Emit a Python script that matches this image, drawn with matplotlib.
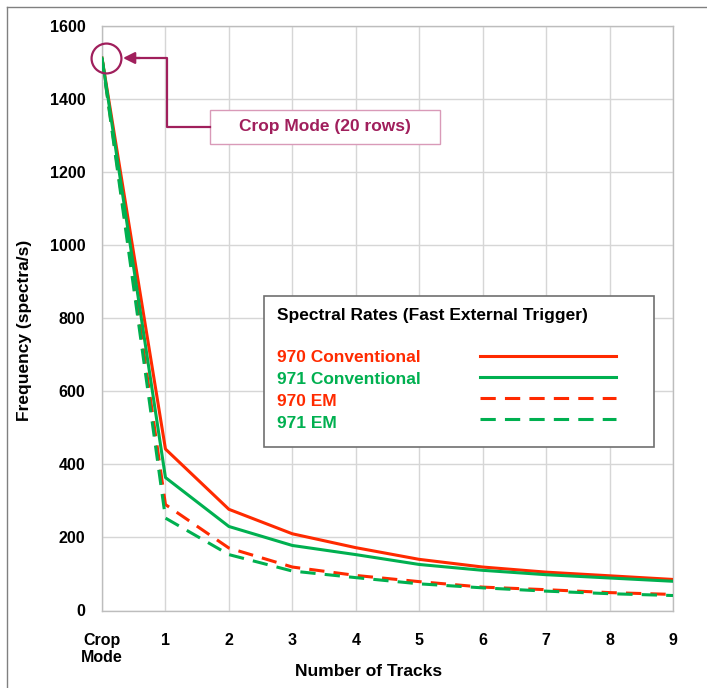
import matplotlib.pyplot as plt
from matplotlib.lines import Line2D
from matplotlib.patches import Rectangle
from matplotlib.transforms import offset_copy

import matplotlib as mpl

mpl.rcParams["font.family"] = ["Liberation Sans", "DejaVu Sans"]
mpl.rcParams["font.weight"] = "bold"

# data
tracks = ["Crop\nMode", "1", "2", "3", "4", "5", "6", "7", "8", "9"]
conv_970 = [1512, 442, 277, 210, 172, 140, 119, 105, 95, 85]
conv_971 = [1512, 364, 230, 178, 153, 126, 110, 98, 89, 80]
em_970 = [1512, 290, 171, 119, 96, 79, 64, 57, 49, 44]
em_971 = [1512, 253, 153, 108, 90, 73, 62, 53, 46, 41]
names = ["970 Conventional", "971 Conventional", "970 EM", "971 EM"]
legend_title = "Spectral Rates (Fast External Trigger)"
note = "Crop Mode (20 rows)"

RED = "#FF2A00"
GREEN = "#00B050"
PLUM = "#A01F5C"

W, H = 707, 688
fig = plt.figure(figsize=(W / 100, H / 100), dpi=100)


def fx(x):
    return x / W


def fy(y):
    return 1 - y / H


ax = fig.add_axes([fx(102), fy(610.5), (673 - 102) / W, (610.5 - 26) / H])

x = list(range(len(tracks)))
lw = 2.2
ax.plot(x, conv_970, color=RED, lw=lw, solid_joinstyle="round", zorder=3)
ax.plot(x, em_970, color=RED, lw=lw, dashes=(5, 3), zorder=3)
ax.plot(x, conv_971, color=GREEN, lw=lw, solid_joinstyle="round", zorder=4)
ax.plot(x, em_971, color=GREEN, lw=lw, dashes=(5, 3), zorder=4)

ax.set_xlim(0, 9)
ax.set_ylim(0, 1600)
ax.set_xticks(x)
ax.set_xticklabels(tracks)
ax.set_yticks(range(0, 1601, 200))
ax.tick_params(axis="x", length=0, pad=16, labelsize=11.5)
ax.tick_params(axis="y", length=0, pad=12, labelsize=11.5)
ax.grid(True, color="#D6D6D6", lw=1)
ax.set_axisbelow(True)
for s in ax.spines.values():
    s.set_color("#BDBDBD")
    s.set_linewidth(1)

fig.text(fx(369), fy(672), "Number of Tracks", ha="center", va="center",
         fontsize=12.5, fontweight="bold")
fig.text(fx(25), fy(330), "Frequency (spectra/s)", ha="center", va="center",
         rotation=90, fontsize=12.5, fontweight="bold")

# outer frame (only top and left edges are inside the image)
fig.add_artist(Line2D([fx(7), 1], [fy(7), fy(7)], color="#808080", lw=1))
fig.add_artist(Line2D([fx(7), fx(7)], [fy(7), 0], color="#808080", lw=1))

# crop mode callout
ring = offset_copy(ax.transData, fig=fig, x=4, y=0, units="dots")
ax.plot([0], [conv_970[0]], marker="o", ms=21.5, mfc="none", mec=PLUM,
        mew=1.6, clip_on=False, zorder=5, transform=ring)
fig.add_artist(Line2D([fx(210), fx(167), fx(167), fx(132)],
                      [fy(127), fy(127), fy(58), fy(58)], color=PLUM, lw=1.6))
ax.annotate("", xy=(fx(123), fy(58)), xycoords="figure fraction",
            xytext=(fx(140), fy(58)), textcoords="figure fraction",
            arrowprops=dict(arrowstyle="-|>,head_length=0.7,head_width=0.35",
                            color=PLUM, lw=1.6, shrinkA=0, shrinkB=0))
fig.add_artist(Rectangle((fx(210), fy(144)), (440 - 210) / W, (144 - 110) / H,
                         fill=True, facecolor="white", edgecolor="#D99AB8", lw=1))
fig.text(fx(325), fy(127), note, ha="center", va="center", color=PLUM,
         fontsize=12.5, fontweight="bold")

# legend box
fig.add_artist(Rectangle((fx(264), fy(447)), (654 - 264) / W, (447 - 296) / H,
                         facecolor="white", edgecolor="#707070", lw=1.2, zorder=6))
fig.text(fx(277), fy(316), legend_title, ha="left", va="center",
         fontsize=12.5, fontweight="bold", zorder=7)
styles = [(RED, None), (GREEN, None), (RED, (5, 3)), (GREEN, (5, 3))]
text_y = [357, 379, 401, 423]
line_y = [356, 377, 398, 419]
for name, (c, d), ty, ly in zip(names, styles, text_y, line_y):
    fig.text(fx(277), fy(ty), name, ha="left", va="center", color=c,
             fontsize=12.5, fontweight="bold", zorder=7)
    ln = Line2D([fx(480), fx(616)], [fy(ly), fy(ly)], color=c, lw=lw, zorder=7)
    if d:
        ln.set_dashes(d)
    fig.add_artist(ln)

fig.savefig("out.png", dpi=100)
